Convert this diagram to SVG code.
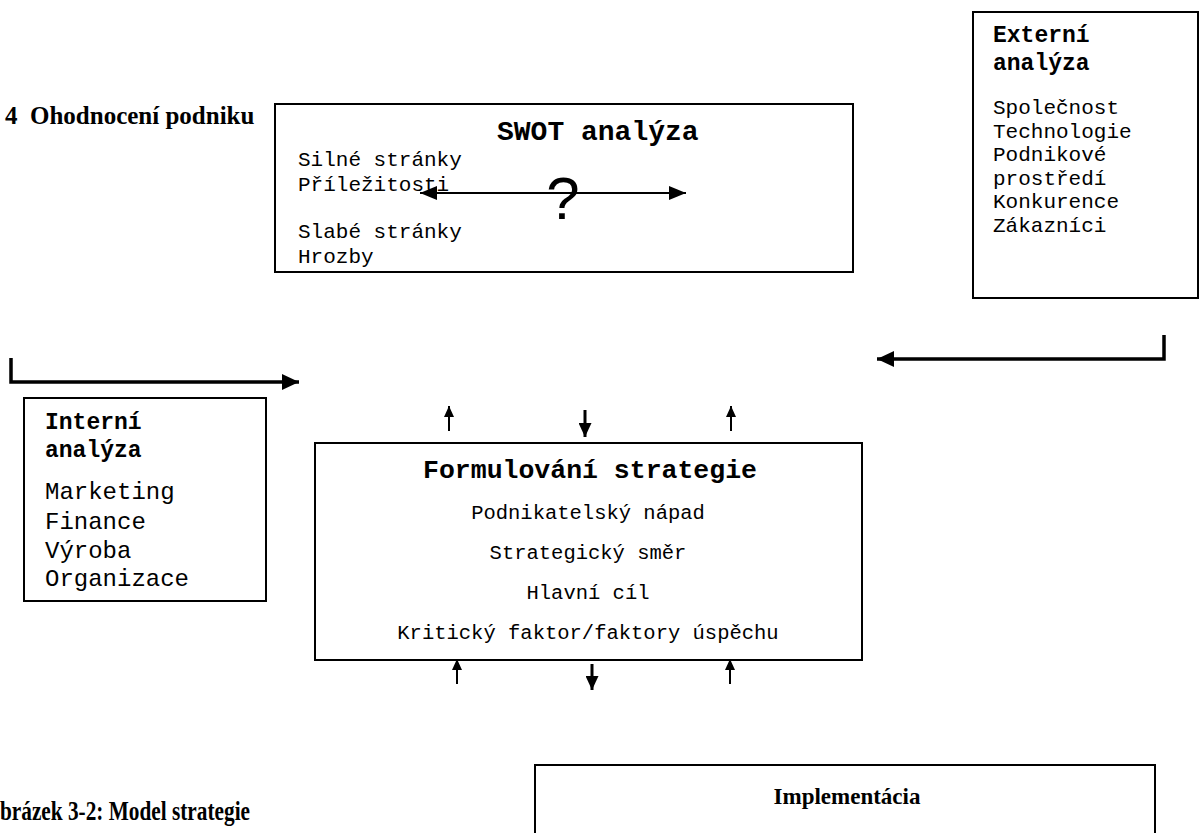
<svg xmlns="http://www.w3.org/2000/svg" width="1200" height="833" viewBox="0 0 1200 833">
<style>
.box{fill:#fff;stroke:#000;stroke-width:2}
.mono{font-family:"Liberation Mono","Courier New",monospace;fill:#000}
.monob{font-family:"Liberation Mono","Courier New",monospace;font-weight:bold;fill:#000}
.serifb{font-family:"Liberation Serif","Times New Roman",serif;font-weight:bold;fill:#000}
.conn{fill:none;stroke:#000}
.thick{stroke-width:3.5}
.thin{stroke-width:2}
.mid{stroke-width:3}
</style>
<defs>
<marker id="ahBig" markerUnits="userSpaceOnUse" markerWidth="17" markerHeight="16" refX="17" refY="8" orient="auto"><path d="M0,0 L17,8 L0,16 z" fill="#000"/></marker>
<marker id="ahMid" markerUnits="userSpaceOnUse" markerWidth="17" markerHeight="14" refX="17" refY="7" orient="auto-start-reverse"><path d="M0,0 L17,7 L0,14 z" fill="#000"/></marker>
<marker id="ahSmall" markerUnits="userSpaceOnUse" markerWidth="11" markerHeight="10" refX="11" refY="5" orient="auto"><path d="M0,0 L11,5 L0,10 z" fill="#000"/></marker>
<marker id="ahDown" markerUnits="userSpaceOnUse" markerWidth="14" markerHeight="13" refX="14" refY="6.5" orient="auto"><path d="M0,0 L14,6.5 L0,13 z" fill="#000"/></marker>
</defs>
<rect width="1200" height="833" fill="#fff"/>

<g id="heading">
<text class="serifb" x="5" y="124" font-size="25" xml:space="preserve">4  Ohodnocení podniku</text>
</g>

<g id="swot">
<rect class="box" x="275" y="104" width="578" height="168"/>
<text class="monob" x="497" y="140" font-size="28">SWOT analýza</text>
<text class="mono" x="298" y="166" font-size="21">Silné stránky</text>
<text class="mono" x="298" y="191" font-size="21">Příležitosti</text>
<text class="mono" x="298" y="238" font-size="21">Slabé stránky</text>
<text class="mono" x="298" y="263" font-size="21">Hrozby</text>
<text x="563" y="219" font-size="60" text-anchor="middle" font-family="Liberation Sans, Arial, sans-serif">?</text>
</g>

<g id="externi">
<rect class="box" x="973" y="12" width="225" height="286"/>
<text class="monob" x="993" y="42" font-size="23">Externí</text>
<text class="monob" x="993" y="70" font-size="23">analýza</text>
<text class="mono" x="993" y="114" font-size="21">Společnost</text>
<text class="mono" x="993" y="138" font-size="21">Technologie</text>
<text class="mono" x="993" y="161" font-size="21">Podnikové</text>
<text class="mono" x="993" y="185" font-size="21">prostředí</text>
<text class="mono" x="993" y="208" font-size="21">Konkurence</text>
<text class="mono" x="993" y="232" font-size="21">Zákazníci</text>
</g>

<g id="interni">
<rect class="box" x="24" y="398" width="242" height="203"/>
<text class="monob" x="45" y="429" font-size="23">Interní</text>
<text class="monob" x="45" y="457" font-size="23">analýza</text>
<text class="mono" x="45" y="499" font-size="24">Marketing</text>
<text class="mono" x="45" y="529" font-size="24">Finance</text>
<text class="mono" x="45" y="558" font-size="24">Výroba</text>
<text class="mono" x="45" y="586" font-size="24">Organizace</text>
</g>

<g id="formulovani">
<rect class="box" x="315" y="443" width="547" height="217"/>
<text class="monob" x="590" y="478" font-size="26.5" text-anchor="middle">Formulování strategie</text>
<text class="mono" x="588" y="519" font-size="20.5" text-anchor="middle">Podnikatelský nápad</text>
<text class="mono" x="588" y="559" font-size="20.5" text-anchor="middle">Strategický směr</text>
<text class="mono" x="588" y="599" font-size="20.5" text-anchor="middle">Hlavní cíl</text>
<text class="mono" x="588" y="639" font-size="20.5" text-anchor="middle">Kritický faktor/faktory úspěchu</text>
</g>

<g id="caption">
<text class="serifb" x="0" y="820" font-size="27" textLength="250" lengthAdjust="spacingAndGlyphs">brázek 3-2: Model strategie</text>
</g>

<g id="implementacia">
<rect class="box" x="535" y="765" width="620" height="90"/>
<text class="serifb" x="847" y="804" font-size="23" text-anchor="middle">Implementácia</text>
</g>

<g id="connectors">
<path class="conn thick" d="M11,358 V382 H299" marker-end="url(#ahBig)"/>
<path class="conn thick" d="M1164,335 V359 H877" marker-end="url(#ahBig)"/>
<path class="conn thin" d="M420,193 H686" marker-start="url(#ahMid)" marker-end="url(#ahMid)"/>
<path class="conn thin" d="M449,431 V406" marker-end="url(#ahSmall)"/>
<path class="conn mid" d="M585,410 V437" marker-end="url(#ahDown)"/>
<path class="conn thin" d="M731,431 V406" marker-end="url(#ahSmall)"/>
<path class="conn thin" d="M457,684 V659" marker-end="url(#ahSmall)"/>
<path class="conn mid" d="M592,664 V690" marker-end="url(#ahDown)"/>
<path class="conn thin" d="M730,684 V659" marker-end="url(#ahSmall)"/>
</g>
</svg>
